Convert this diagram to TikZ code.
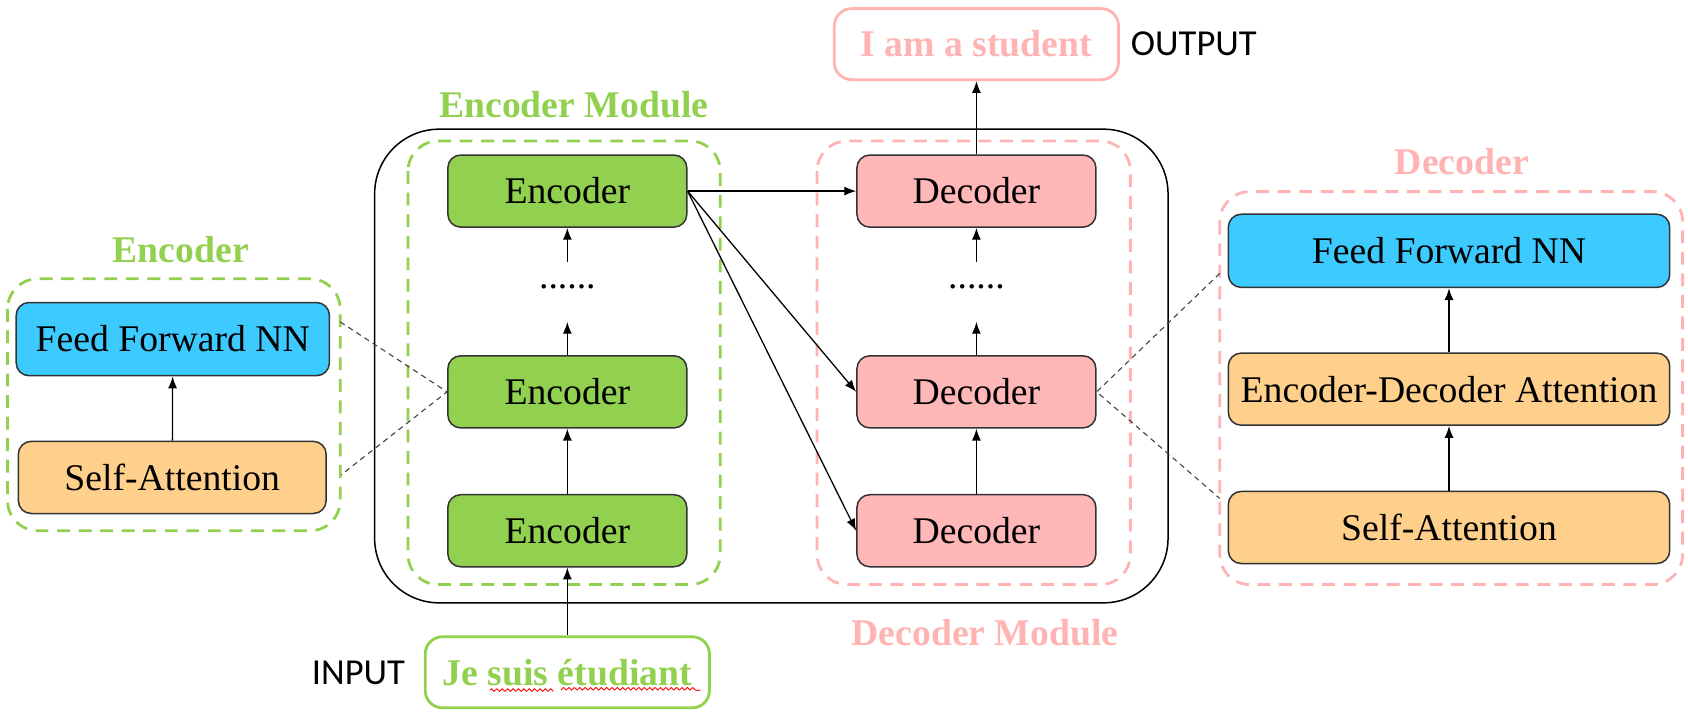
\documentclass[tikz,border=0pt]{standalone}
\usepackage{fontspec}
\setmainfont{Liberation Serif}
\newfontfamily\tagfont{Carlito}
\usetikzlibrary{arrows.meta,decorations.pathmorphing}
\definecolor{encgreen}{HTML}{92D050}
\definecolor{decpink}{HTML}{FFB7B8}
\definecolor{pinkline}{HTML}{FFB3B3}
\definecolor{ffblue}{HTML}{3DCBFF}
\definecolor{attorange}{HTML}{FFD08C}
\begin{document}
\begin{tikzpicture}[x=0.5pt,y=-0.5pt,>={Latex[length=5.5pt,width=4.2pt]},
    block/.style={draw=black!80,line width=0.7pt,rounded corners=6pt,minimum height=33.5pt,inner sep=0pt,font=\fontsize{17.5}{20}\selectfont},
    encblock/.style={block,fill=encgreen,minimum width=111pt},
    decblock/.style={block,fill=decpink,minimum width=111pt},
    ffblock/.style={block,fill=ffblue},
    attblock/.style={block,fill=attorange},
    encframe/.style={draw=encgreen,line width=1.3pt,dash pattern=on 6pt off 4pt,rounded corners=14pt},
    decframe/.style={draw=pinkline,line width=1.3pt,dash pattern=on 6pt off 4pt,rounded corners=14pt},
    title/.style={font=\bfseries\fontsize{17.5}{20}\selectfont},
    word/.style={line width=1.3pt,rounded corners=8pt,minimum width=132pt,minimum height=33pt,inner sep=0pt,font=\bfseries\fontsize{17.5}{20}\selectfont},
    tag/.style={font=\tagfont\fontsize{17}{20}\selectfont},
    link/.style={->,line width=0.6pt},
    hint/.style={draw=black!75,line width=0.5pt,dash pattern=on 2.5pt off 2pt}]
    \useasboundingbox (0,0) rectangle (1568,663);

    % draw the frames
    \draw[line width=0.7pt,rounded corners=30pt] (348,120) rectangle (1085,560);
    \draw[encframe] (379,131) rectangle (669,543);
    \draw[decframe] (759,131) rectangle (1050,543);
    \draw[encframe] (7,259) rectangle (316,493);
    \draw[decframe] (1133,178) rectangle (1563,543);

    % frame titles
    \node[title,text=encgreen] (enctitle) at (168,232) {Encoder};
    \node[title,text=encgreen] (encmodtitle) at (533,97) {Encoder Module};
    \node[title,text=pinkline] (decmodtitle) at (915,588) {Decoder Module};
    \node[title,text=pinkline] (dectitle) at (1358,150) {Decoder};

    % encoder stack
    \node[encblock] (enc1) at (527,493) {Encoder};
    \node[encblock] (enc2) at (527,364) {Encoder};
    \node[encblock] (enc3) at (527,177.5) {Encoder};
    \node[anchor=base,font=\fontsize{17.5}{20}\selectfont] (encdots) at (527,268) {......};
    \coordinate (encgapb) at (527,299);
    \coordinate (encgapt) at (527,243);

    % decoder stack
    \node[decblock] (dec1) at (907,493) {Decoder};
    \node[decblock] (dec2) at (907,364) {Decoder};
    \node[decblock] (dec3) at (907,177.5) {Decoder};
    \node[anchor=base,font=\fontsize{17.5}{20}\selectfont] (decdots) at (907,268) {......};
    \coordinate (decgapb) at (907,299);
    \coordinate (decgapt) at (907,243);

    % input and output
    \node[word,draw=encgreen,text=encgreen] (input) at (527,624.5) {Je suis étudiant};
    \node[word,draw=pinkline,text=pinkline] (output) at (907,41) {I am a student};
    \node[tag] (inputtag) at (333,625) {INPUT};
    \node[tag] (outputtag) at (1109,41) {OUTPUT};
    \draw[red,line width=0.4pt,decorate,decoration={snake,amplitude=0.6pt,segment length=2.5pt}] (455,641) -- (512,641) (521,641) -- (651,641);

    % encoder detail
    \node[ffblock,minimum width=145.5pt,minimum height=34pt] (encff) at (160.5,315) {Feed Forward NN};
    \node[attblock,minimum width=143pt] (encsa) at (160,443.5) {Self-Attention};

    % decoder detail
    \node[ffblock,minimum width=205pt,minimum height=34pt] (decff) at (1346,233) {Feed Forward NN};
    \node[attblock,minimum width=205pt] (deced) at (1346,361.5) {Encoder-Decoder Attention};
    \node[attblock,minimum width=205pt] (decsa) at (1346,490) {Self-Attention};

    % arrows
    \draw[link] (input) -- (enc1);
    \draw[link] (enc1) -- (enc2);
    \draw[link] (enc2) -- (encgapb);
    \draw[link] (encgapt) -- (enc3);
    \draw[link] (dec1) -- (dec2);
    \draw[link] (dec2) -- (decgapb);
    \draw[link] (decgapt) -- (dec3);
    \draw[link] (dec3) -- (output);
    \draw[link] (enc3.east) -- (dec3.west);
    \draw[link] (enc3.east) -- (dec2.west);
    \draw[link] (enc3.east) -- (dec1.west);
    \draw[link] (encsa) -- (encff);
    \draw[link] (decsa) -- (deced);
    \draw[link] (deced) -- (decff);

    % zoom lines
    \coordinate (encffout) at (316,299);
    \coordinate (encsaout) at (317,441);
    \coordinate (decffout) at (1133,254);
    \coordinate (decsaout) at (1133,463);
    \draw[hint] (encffout) -- (enc2.west) -- (encsaout);
    \draw[hint] (decffout) -- (dec2.east) -- (decsaout);
\end{tikzpicture}
\end{document}
